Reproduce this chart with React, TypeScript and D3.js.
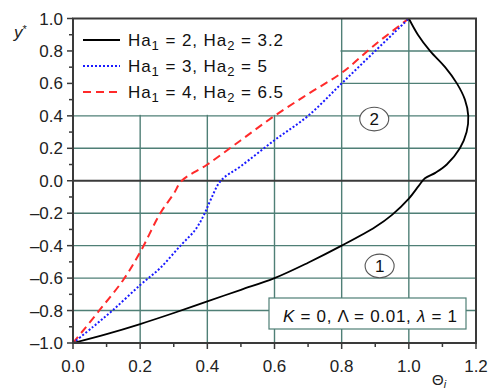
import React from "react";
import * as d3 from "d3";

const xTicks = [0.0, 0.2, 0.4, 0.6, 0.8, 1.0, 1.2];
const yTicks = [-1.0, -0.8, -0.6, -0.4, -0.2, 0.0, 0.2, 0.4, 0.6, 0.8, 1.0];

const ha1 = ["2", "3", "4"];
const ha2 = ["3.2", "5", "6.5"];

const blackTheta = [0, 0.1, 0.2, 0.3, 0.4, 0.5, 0.6, 0.7, 0.8, 0.9, 0.95, 1.0, 1.03, 1.048, 1.08, 1.113, 1.152, 1.172, 1.177, 1.167, 1.143, 1.108, 1.063, 1.027, 1.0];
const blackY = [-1, -0.945, -0.883, -0.815, -0.743, -0.672, -0.6, -0.505, -0.4, -0.285, -0.21, -0.11, -0.03, 0.015, 0.05, 0.1, 0.2, 0.3, 0.4, 0.5, 0.6, 0.7, 0.8, 0.9, 1.0];

const blueTheta = [0, 0.06, 0.12, 0.2, 0.26, 0.32, 0.365, 0.39, 0.41, 0.44, 0.5, 0.6, 0.7, 0.8, 0.9, 1.0];
const blueY = [-1, -0.9, -0.795, -0.643, -0.537, -0.4, -0.3, -0.21, -0.117, 0.0, 0.09, 0.25, 0.4, 0.6, 0.8, 1.0];

const redTheta = [0, 0.08, 0.15, 0.2, 0.26, 0.3, 0.324, 0.4, 0.5, 0.6, 0.7, 0.8, 0.9, 1.0];
const redY = [-1, -0.795, -0.61, -0.44, -0.2, -0.08, 0.0, 0.1, 0.25, 0.4, 0.535, 0.665, 0.84, 1.0];

const regionLabels = ["1", "2"];
const regionTheta = [0.913, 0.897];
const regionY = [-0.525, 0.38];

const W = 491, H = 392;
const L = 73, R = 476, T = 18.5, B = 343;

const x = d3.scaleLinear().domain([0, 1.2]).range([L, R]);
const y = d3.scaleLinear().domain([-1, 1]).range([B, T]);

const gridColor = "#4f7f76";
const frameColor = "#3a3a3a";
const font = "Liberation Sans, Arial, sans-serif";

function fmt(v: number) {
  const s = v.toFixed(1);
  return v < 0 ? "\u2013" + s.slice(1) : s;
}

export default function App() {
  const line = d3.line<[number, number]>().x(d => x(d[0])).y(d => y(d[1])).curve(d3.curveCatmullRom.alpha(0.5));
  const black = line(blackTheta.map((t, i) => [t, blackY[i]]) as [number, number][]) || "";
  const blue = line(blueTheta.map((t, i) => [t, blueY[i]]) as [number, number][]) || "";
  const red = line(redTheta.map((t, i) => [t, redY[i]]) as [number, number][]) || "";

  const xMinor = d3.range(0, 1.2001, 0.1);
  const yMinor = d3.range(-1, 1.0001, 0.1);

  const legendStyles = [
    { stroke: "#000000", dash: undefined, w: 2 },
    { stroke: "#1a1aff", dash: "2,2", w: 2 },
    { stroke: "#ff2a2a", dash: "8,5", w: 2 },
  ];
  const legendY = [40, 66, 92];
  const legendLen = [155, 139, 155];

  return (
    <svg width={W} height={H} style={{ position: "absolute", left: 0, top: 0, background: "#fff" }}>
      <rect x={0} y={0} width={W} height={H} fill="#fff" />
      {xTicks.slice(1, -1).map(v => (
        <line key={"gx" + v} x1={x(v)} x2={x(v)} y1={T} y2={B} stroke={gridColor} strokeWidth={1.4} />
      ))}
      {yTicks.slice(1, -1).filter(v => v !== 0).map(v => (
        <line key={"gy" + v} x1={L} x2={R} y1={y(v)} y2={y(v)} stroke={gridColor} strokeWidth={1.4} />
      ))}
      <rect x={L} y={T} width={x(0.8) - L - 1.2} height={y(0.4) - T - 1} fill="#fff" />
      <line x1={L} x2={R} y1={y(0)} y2={y(0)} stroke={frameColor} strokeWidth={2} />
      <rect x={269} y={298} width={197} height={31} fill="#fff" stroke={gridColor} strokeWidth={1.2} />
      <text x={283} y={322} fontFamily={font} fontSize={17} fill="#111" textLength={174} lengthAdjust="spacing">
        <tspan fontStyle="italic">K</tspan>
        <tspan> = 0, Λ = 0.01, </tspan>
        <tspan fontStyle="italic">λ</tspan>
        <tspan> = 1</tspan>
      </text>
      {regionLabels.map((lab, i) => (
        <g key={"r" + lab}>
          <ellipse cx={x(regionTheta[i])} cy={y(regionY[i])} rx={14.5} ry={11.8} fill="#fff" stroke="#555" strokeWidth={1.1} />
          <text x={x(regionTheta[i])} y={y(regionY[i]) + 6} textAnchor="middle" fontFamily={font} fontSize={17} fill="#111">{lab}</text>
        </g>
      ))}
      <path d={red} fill="none" stroke="#ff2a2a" strokeWidth={2} strokeDasharray="8,5" />
      <path d={blue} fill="none" stroke="#1a1aff" strokeWidth={2} strokeDasharray="2,2" />
      <path d={black} fill="none" stroke="#000" strokeWidth={1.8} />
      <rect x={L} y={T} width={R - L} height={B - T} fill="none" stroke={frameColor} strokeWidth={2} />
      {yMinor.map((v, i) => (
        <line key={"ty" + i} x1={L - (i % 2 === 0 ? 6 : 4)} x2={L} y1={y(v)} y2={y(v)} stroke={frameColor} strokeWidth={1.5} />
      ))}
      {xMinor.map((v, i) => (
        <line key={"tx" + i} x1={x(v)} x2={x(v)} y1={B} y2={B + (i % 2 === 0 ? 6 : 4)} stroke={frameColor} strokeWidth={1.5} />
      ))}
      {yTicks.map(v => (
        <text key={"ly" + v} x={63} y={y(v) + 6} textAnchor="end" fontFamily={font} fontSize={17} fill="#222">{fmt(v)}</text>
      ))}
      {xTicks.map(v => (
        <text key={"lx" + v} x={x(v)} y={372} textAnchor="middle" fontFamily={font} fontSize={17} fill="#222">{fmt(v)}</text>
      ))}
      <text x={14} y={38} fontFamily={font} fontSize={17} fill="#222">
        <tspan fontStyle="italic">y</tspan>
        <tspan dy={-5} fontSize={11}>*</tspan>
      </text>
      <text x={432} y={385} fontFamily={font} fontSize={15} fill="#222">
        <tspan>Θ</tspan>
        <tspan dy={3} fontSize={11} fontStyle="italic">i</tspan>
      </text>
      {ha1.map((a, i) => (
        <g key={"lg" + i}>
          <line x1={83} x2={120} y1={legendY[i]} y2={legendY[i]} stroke={legendStyles[i].stroke} strokeWidth={legendStyles[i].w} strokeDasharray={legendStyles[i].dash} />
          <text x={128} y={legendY[i] + 6} fontFamily={font} fontSize={17} fill="#111" textLength={legendLen[i]} lengthAdjust="spacing">
            <tspan>Ha</tspan>
            <tspan dy={4} fontSize={13}>1</tspan>
            <tspan dy={-4}>{` = ${a}, Ha`}</tspan>
            <tspan dy={4} fontSize={13}>2</tspan>
            <tspan dy={-4}>{` = ${ha2[i]}`}</tspan>
          </text>
        </g>
      ))}
    </svg>
  );
}
